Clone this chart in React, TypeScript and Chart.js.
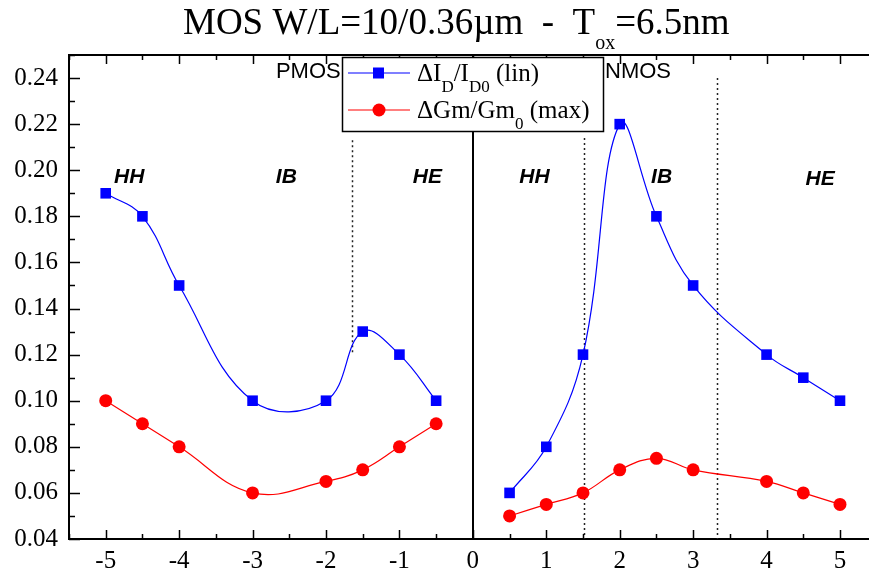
import React, { useEffect, useRef } from "react";
import { Chart, registerables } from "chart.js";

Chart.register(...registerables);

const PMOS_X = [-5, -4.5, -4, -3, -2, -1.5, -1, -0.5];
const PMOS_ID = [0.19, 0.18, 0.15, 0.1, 0.1, 0.13, 0.12, 0.1];
const PMOS_GM = [0.1, 0.09, 0.08, 0.06, 0.065, 0.07, 0.08, 0.09];
const NMOS_X = [0.5, 1, 1.5, 2, 2.5, 3, 4, 4.5, 5];
const NMOS_ID = [0.06, 0.08, 0.12, 0.22, 0.18, 0.15, 0.12, 0.11, 0.1];
const NMOS_GM = [0.05, 0.055, 0.06, 0.07, 0.075, 0.07, 0.065, 0.06, 0.055];

const X_TICKS = [-5, -4, -3, -2, -1, 0, 1, 2, 3, 4, 5];
const X_MINOR = [-5.5, -4.5, -3.5, -2.5, -1.5, -0.5, 0.5, 1.5, 2.5, 3.5, 4.5];
const Y_TICKS = [0.04, 0.06, 0.08, 0.1, 0.12, 0.14, 0.16, 0.18, 0.2, 0.22, 0.24];
const Y_MINOR = [0.05, 0.07, 0.09, 0.11, 0.13, 0.15, 0.17, 0.19, 0.21, 0.23, 0.25];

const REGION_LABELS = [
  { text: "HH", x: -4.68, y: 0.1944 },
  { text: "IB", x: -2.54, y: 0.1944 },
  { text: "HE", x: -0.62, y: 0.1944 },
  { text: "HH", x: 0.84, y: 0.1944 },
  { text: "IB", x: 2.57, y: 0.1944 },
  { text: "HE", x: 4.73, y: 0.1935 },
];
const DOTTED = [
  { x: -1.64, y0: 0.12, y1: 0.213 },
  { x: 1.51, y0: 0.04, y1: 0.214 },
  { x: 3.32, y0: 0.04, y1: 0.24 },
];

const SERIF = "'Liberation Serif', 'Times New Roman', serif";
const SANS = "'Liberation Sans', Arial, sans-serif";

type Part = { t: string; sub?: boolean };

function drawRich(
  ctx: CanvasRenderingContext2D,
  parts: Part[],
  x: number,
  y: number,
  size: number,
  subSize: number,
  subShift: number
) {
  ctx.textAlign = "left";
  ctx.textBaseline = "alphabetic";
  let cx = x;
  for (const p of parts) {
    ctx.font = `${p.sub ? subSize : size}px ${SERIF}`;
    ctx.fillText(p.t, cx, p.sub ? y + subShift : y);
    cx += ctx.measureText(p.t).width;
  }
}

const decorPlugin = {
  id: "decor",
  afterLayout(chart: any) {
    const xs = chart.scales.x;
    const W = chart.width;
    xs.right = W;
    xs.width = W - xs.left;
    xs.configure();
    chart.chartArea.right = W;
    chart.chartArea.width = W - chart.chartArea.left;
  },
  beforeDatasetsDraw(chart: any) {
    const ctx = chart.ctx as CanvasRenderingContext2D;
    const xs = chart.scales.x;
    const ys = chart.scales.y;
    const { top, bottom } = chart.chartArea;
    ctx.save();
    ctx.strokeStyle = "#000";
    ctx.lineWidth = 2;
    ctx.beginPath();
    const x0 = Math.round(xs.getPixelForValue(0));
    ctx.moveTo(x0, top);
    ctx.lineTo(x0, bottom);
    ctx.stroke();
    ctx.setLineDash([2, 3]);
    ctx.lineWidth = 1.5;
    ctx.strokeStyle = "#222";
    for (const d of DOTTED) {
      const px = Math.round(xs.getPixelForValue(d.x)) + 0.5;
      ctx.beginPath();
      ctx.moveTo(px, ys.getPixelForValue(d.y1));
      ctx.lineTo(px, ys.getPixelForValue(d.y0));
      ctx.stroke();
    }
    ctx.setLineDash([]);
    ctx.fillStyle = "#000";
    ctx.font = `italic bold 21px ${SANS}`;
    ctx.textAlign = "center";
    ctx.textBaseline = "alphabetic";
    for (const l of REGION_LABELS) {
      ctx.fillText(l.text, xs.getPixelForValue(l.x), ys.getPixelForValue(l.y));
    }
    ctx.font = `22px ${SANS}`;
    ctx.textAlign = "right";
    ctx.fillText("PMOS", xs.getPixelForValue(-1.8), ys.getPixelForValue(0.24));
    ctx.textAlign = "left";
    ctx.fillText("NMOS", xs.getPixelForValue(1.8), ys.getPixelForValue(0.24));
    ctx.restore();
  },
  afterDatasetsDraw(chart: any) {
    const ctx = chart.ctx as CanvasRenderingContext2D;
    const xs = chart.scales.x;
    const ys = chart.scales.y;
    const { left, right, top, bottom } = chart.chartArea;
    ctx.save();
    ctx.strokeStyle = "#000";
    ctx.lineWidth = 2;
    ctx.beginPath();
    ctx.moveTo(left - 1, top);
    ctx.lineTo(right, top);
    ctx.stroke();
    ctx.lineWidth = 1.5;
    const tickX = (v: number, len: number) => {
      const px = Math.round(xs.getPixelForValue(v)) + 0.5;
      ctx.beginPath();
      ctx.moveTo(px, bottom);
      ctx.lineTo(px, bottom - len);
      ctx.moveTo(px, top);
      ctx.lineTo(px, top + len);
      ctx.stroke();
    };
    X_TICKS.forEach((v) => tickX(v, 9));
    X_MINOR.forEach((v) => tickX(v, 5));
    const tickY = (v: number, len: number) => {
      const py = Math.round(ys.getPixelForValue(v)) + 0.5;
      ctx.beginPath();
      ctx.moveTo(left, py);
      ctx.lineTo(left + len, py);
      ctx.stroke();
    };
    Y_TICKS.forEach((v) => tickY(v, 11));
    Y_MINOR.forEach((v) => tickY(v, 6));

    // legend
    const bx = 342, by = 57, bw = 261, bh = 74;
    ctx.fillStyle = "#fff";
    ctx.fillRect(bx, by, bw, bh);
    ctx.lineWidth = 1.5;
    ctx.strokeStyle = "#000";
    ctx.strokeRect(bx + 0.5, by + 0.5, bw, bh);
    const rows = [
      {
        color: "#0000ff",
        shape: "square",
        parts: [
          { t: "ΔI" },
          { t: "D", sub: true },
          { t: "/I" },
          { t: "D0", sub: true },
          { t: " (lin)" },
        ] as Part[],
        y: 73,
      },
      {
        color: "#ff0000",
        shape: "circle",
        parts: [{ t: "ΔGm/Gm" }, { t: "0", sub: true }, { t: " (max)" }] as Part[],
        y: 110,
      },
    ];
    for (const r of rows) {
      ctx.strokeStyle = r.color;
      ctx.lineWidth = 1.2;
      ctx.beginPath();
      ctx.moveTo(348, r.y);
      ctx.lineTo(410, r.y);
      ctx.stroke();
      ctx.fillStyle = r.color;
      if (r.shape === "square") ctx.fillRect(373, r.y - 5.5, 11, 11);
      else {
        ctx.beginPath();
        ctx.arc(379, r.y, 6.5, 0, Math.PI * 2);
        ctx.fill();
      }
      ctx.fillStyle = "#000";
      drawRich(ctx, r.parts, 417, r.y + 8, 25, 17, 11);
    }

    // title
    const tparts: Part[] = [
      { t: "MOS W/L=10/0.36µm  -  T" },
      { t: "ox", sub: true },
      { t: "=6.5nm" },
    ];
    ctx.fillStyle = "#000";
    drawRich(ctx, tparts, 183, 34, 37, 20, 15);
    ctx.restore();
  },
};

export default function App() {
  const ref = useRef<HTMLCanvasElement>(null);
  useEffect(() => {
    if (!ref.current) return;
    const mk = (x: number[], y: number[]) => x.map((v, i) => ({ x: v, y: y[i] }));
    const blue = {
      borderColor: "#0000ff",
      backgroundColor: "#0000ff",
      pointBackgroundColor: "#0000ff",
      pointBorderColor: "#0000ff",
      pointStyle: "rect",
      pointRadius: 7.5,
      pointBorderWidth: 0,
      borderWidth: 1.2,
      tension: 0.4,
      showLine: true,
      fill: false,
    };
    const red = {
      borderColor: "#ff0000",
      backgroundColor: "#ff0000",
      pointBackgroundColor: "#ff0000",
      pointBorderColor: "#ff0000",
      pointStyle: "circle",
      pointRadius: 6.5,
      pointBorderWidth: 0,
      borderWidth: 1.2,
      tension: 0.4,
      showLine: true,
      fill: false,
    };
    const chart = new Chart(ref.current, {
      type: "line",
      data: {
        datasets: [
          { label: "PMOS ΔID/ID0", data: mk(PMOS_X, PMOS_ID), ...blue },
          { label: "NMOS ΔID/ID0", data: mk(NMOS_X, NMOS_ID), ...blue },
          { label: "PMOS ΔGm/Gm0", data: mk(PMOS_X, PMOS_GM), ...red },
          { label: "NMOS ΔGm/Gm0", data: mk(NMOS_X, NMOS_GM), ...red },
        ] as any,
      },
      options: {
        animation: false,
        responsive: false,
        devicePixelRatio: 1,
        layout: { padding: { top: 55, right: 0, left: 0, bottom: 0 } },
        plugins: { legend: { display: false }, tooltip: { enabled: false }, title: { display: false } },
        scales: {
          x: {
            type: "linear",
            min: -5.5,
            max: 5.395,
            afterFit: (s: any) => {
              s.height = 35;
              s.paddingLeft = 0;
              s.paddingRight = 0;
            },
            afterBuildTicks: (s: any) => {
              s.ticks = X_TICKS.map((v) => ({ value: v }));
            },
            grid: { display: false, drawTicks: false },
            border: { display: true, color: "#000", width: 2 },
            ticks: {
              color: "#000",
              padding: 7,
              maxRotation: 0,
              autoSkip: false,
              font: { family: SERIF, size: 25 },
              callback: (v: any) => String(v),
            },
          },
          y: {
            type: "linear",
            min: 0.04,
            max: 0.25,
            afterFit: (s: any) => {
              s.width = 69;
              s.paddingTop = 0;
              s.paddingBottom = 0;
            },
            afterBuildTicks: (s: any) => {
              s.ticks = Y_TICKS.map((v) => ({ value: v }));
            },
            grid: { display: false, drawTicks: false },
            border: { display: true, color: "#000", width: 2 },
            ticks: {
              color: "#000",
              padding: 11,
              autoSkip: false,
              font: { family: SERIF, size: 25 },
              callback: (v: any) => Number(v).toFixed(2),
            },
          },
        },
      } as any,
      plugins: [decorPlugin],
    });
    return () => chart.destroy();
  }, []);
  return (
    <canvas
      ref={ref}
      width={869}
      height={574}
      style={{ position: "fixed", left: 0, top: 0, width: 869, height: 574, display: "block", background: "#fff" }}
    />
  );
}
